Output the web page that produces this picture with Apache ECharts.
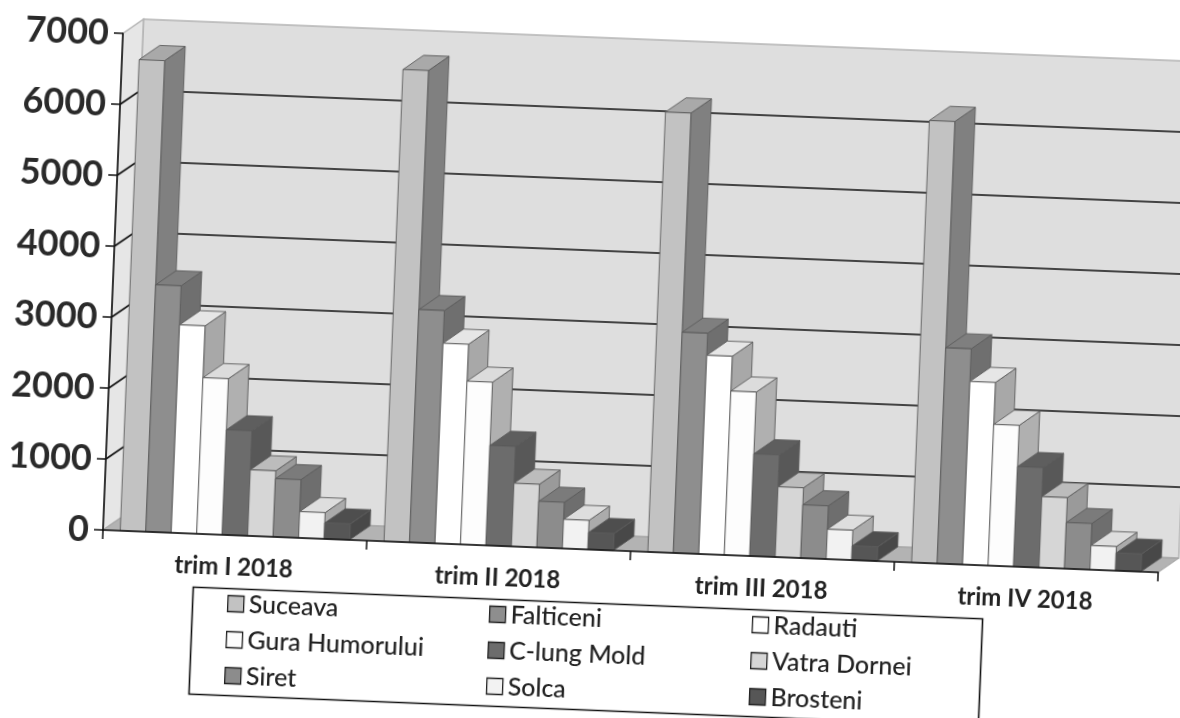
<!DOCTYPE html>
<html>
<head>
<meta charset="utf-8">
<style>
html,body{margin:0;padding:0;background:#fff;width:1180px;height:718px;overflow:hidden}
#chart{position:absolute;left:0;top:0;width:1300px;height:800px;transform-origin:103px 530px;transform:rotate(2.3deg)}
</style>
<script src="https://cdn.jsdelivr.net/npm/echarts@6/dist/echarts.min.js"></script>
</head>
<body>
<div id="chart"></div>
<script>
var categories = ['trim I 2018', 'trim II 2018', 'trim III 2018', 'trim IV 2018'];
var valueTicks = [0, 1000, 2000, 3000, 4000, 5000, 6000, 7000];

var suceava   = [6640, 6650, 6200, 6230];
var falticeni = [3480, 3280, 3110, 3040];
var radauti   = [2930, 2820, 2800, 2580];
var guraHum   = [2200, 2300, 2310, 1990];
var clung     = [1480, 1410, 1440, 1410];
var vatra     = [930, 890, 990, 1000];
var siret     = [820, 650, 750, 650];
var solca     = [370, 410, 420, 340];
var brosteni  = [225, 240, 200, 250];

var seriesNames = ['Suceava', 'Falticeni', 'Radauti', 'Gura Humorului', 'C-lung Mold', 'Vatra Dornei', 'Siret', 'Solca', 'Brosteni'];
var seriesValues = [suceava, falticeni, radauti, guraHum, clung, vatra, siret, solca, brosteni];
// front, side, top
var shades = [
  ['#c2c2c2', '#808080', '#a9a9a9'],
  ['#8e8e8e', '#6f6f6f', '#7f7f7f'],
  ['#ffffff', '#a8a8a8', '#e6e6e6'],
  ['#fdfdfd', '#b0b0b0', '#dcdcdc'],
  ['#6c6c6c', '#585858', '#5e5e5e'],
  ['#d6d6d6', '#9a9a9a', '#bcbcbc'],
  ['#8c8c8c', '#6e6e6e', '#7b7b7b'],
  ['#f2f2f2', '#ababab', '#dedede'],
  ['#565656', '#484848', '#4e4e4e']
];

var DX = 20, DY = -15, BAR_W = 25.5, EDGE = '#5a5a5a';

function poly(points, fill, stroke, width) {
  return {type: 'polygon', shape: {points: points},
    style: {fill: fill, stroke: stroke || EDGE, lineWidth: width === undefined ? 0.9 : width}};
}

function barRenderer(idx) {
  return function (params, api) {
    var cat = api.value(0);
    var top = api.coord([cat, api.value(1)]);
    var base = api.coord([cat, 0]);
    var x0 = top[0] - BAR_W * 4.5 + idx * BAR_W;
    var x1 = x0 + BAR_W, t = top[1], b = base[1];
    var c = shades[idx];
    return {type: 'group', children: [
      poly([[x1, t], [x1 + DX, t + DY], [x1 + DX, b + DY], [x1, b]], c[1]),
      poly([[x0, t], [x0 + DX, t + DY], [x1 + DX, t + DY], [x1, t]], c[2]),
      poly([[x0, t], [x1, t], [x1, b], [x0, b]], c[0])
    ]};
  };
}

function wallRenderer(params, api) {
  var cs = params.coordSys;
  var xl = cs.x, xr = cs.x + cs.width;
  var yTop = cs.y, yBot = cs.y + cs.height;
  var line = '#b4b4b4';
  return {type: 'group', children: [
    poly([[xl + DX, yTop + DY], [xr + DX, yTop + DY], [xr + DX, yBot + DY], [xl + DX, yBot + DY]], '#dedede', line, 1.5),
    poly([[xl, yTop], [xl + DX, yTop + DY], [xl + DX, yBot + DY], [xl, yBot]], '#e6e6e6', line, 1.5),
    poly([[xl, yBot], [xl + DX, yBot + DY], [xr + DX, yBot + DY], [xr, yBot]], '#b3b3b3', '#a0a0a0', 1)
  ]};
}

function gridRenderer(params, api) {
  var cs = params.coordSys;
  var v = api.value(1);
  var y = api.coord([0, v])[1];
  var xl = cs.x, xr = cs.x + cs.width;
  return {type: 'polyline',
    shape: {points: [[xl, y], [xl + DX, y + DY], [xr + DX, y + DY]]},
    style: {fill: null, stroke: '#111', lineWidth: 1.6}};
}

var series = [
  {type: 'custom', name: 'wall', silent: true, z: 1, data: [[0, 0]], renderItem: wallRenderer},
  {type: 'custom', name: 'grid', silent: true, z: 1,
    data: valueTicks.filter(function (v) { return v > 0 && v < 7000; }).map(function (v) { return [0, v]; }),
    renderItem: gridRenderer}
];
seriesNames.forEach(function (name, i) {
  series.push({
    type: 'custom', name: name, z: 3, silent: true,
    itemStyle: {color: shades[i][0]},
    data: seriesValues[i].map(function (v, c) { return [c, v]; }),
    renderItem: barRenderer(i)
  });
});

function legendColumn(left, names) {
  return {
    orient: 'vertical', left: left, top: 581, itemWidth: 16, itemHeight: 16, itemGap: 11,
    selectedMode: false, icon: 'rect',
    textStyle: {fontFamily: 'Lato', fontSize: 25, fontWeight: 500, color: '#222', lineHeight: 22},
    itemStyle: {borderColor: '#222', borderWidth: 1.3},
    data: names
  };
}

var chart = echarts.init(document.getElementById('chart'), null, {renderer: 'canvas'});
chart.setOption({
  animation: false,
  backgroundColor: '#fff',
  grid: {left: 103, top: 33, width: 1056, height: 497},
  xAxis: {
    type: 'category', data: categories, z: 5,
    axisLine: {lineStyle: {color: '#111', width: 1.6}},
    axisTick: {show: true, length: 9, alignWithLabel: false, lineStyle: {color: '#111', width: 1.5}},
    axisLabel: {margin: 20, fontFamily: 'Lato', fontWeight: 'bold', fontSize: 24, color: '#222'}
  },
  yAxis: {
    type: 'value', min: 0, max: 7000, interval: 1000, z: 5,
    splitLine: {show: false},
    axisLine: {show: true, lineStyle: {color: '#111', width: 1.6}},
    axisTick: {show: true, length: 9, lineStyle: {color: '#111', width: 1.5}},
    axisLabel: {margin: 14, fontFamily: 'Lato', fontWeight: 'bold', fontSize: 36, color: '#2a2a2a',
      formatter: function (v) { return String(v); }}
  },
  legend: [
    legendColumn(225, [seriesNames[0], seriesNames[3], seriesNames[6]]),
    legendColumn(487, [seriesNames[1], seriesNames[4], seriesNames[7]]),
    legendColumn(750, [seriesNames[2], seriesNames[5], seriesNames[8]])
  ],
  graphic: [{
    type: 'rect', left: 193, top: 581, silent: true, z: 0,
    shape: {width: 790, height: 107},
    style: {fill: 'none', stroke: '#111', lineWidth: 1.6}
  }],
  series: series
});
</script>
</body>
</html>
